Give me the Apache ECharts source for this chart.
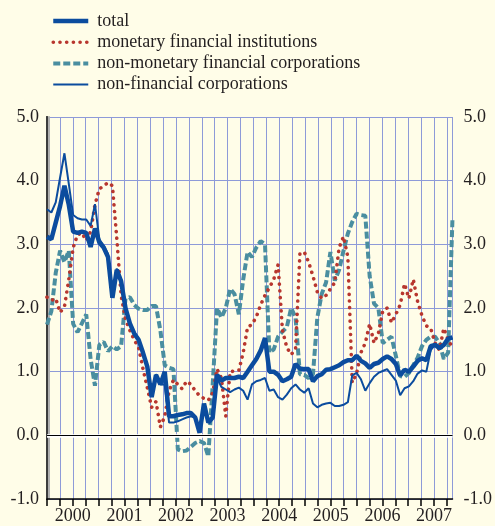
<!DOCTYPE html>
<html>
<head>
<meta charset="utf-8">
<script src="https://cdn.jsdelivr.net/npm/echarts@6/dist/echarts.min.js"></script>
<style>
  html, body { margin: 0; padding: 0; background: #fffde8; }
  #chart { width: 495px; height: 526px; }
</style>
</head>
<body>
<div id="chart"></div>
<script>
// monthly observations, Jan 2000 - Oct 2007
const firstYear = 2000
const seriesNames = [
  'total',
  'monetary financial institutions',
  'non-monetary financial corporations',
  'non-financial corporations'
]

const total = [
  3.12, 3.08, 3.34, 3.6, 3.92, 3.62, 3.2, 3.18, 3.2, 3.18,
  2.96, 3.25, 3.03, 2.95, 2.8, 2.16, 2.6, 2.42, 2.0, 1.76,
  1.6, 1.5, 1.3, 1.08, 0.6, 0.95, 0.8, 1.0, 0.3, 0.3,
  0.32, 0.33, 0.35, 0.35, 0.28, 0.04, 0.5, 0.2, 0.28, 0.95,
  0.86, 0.9, 0.9, 0.9, 0.92, 0.9, 1.0, 1.1, 1.2, 1.33,
  1.53, 1.0, 1.0, 0.95, 0.85, 0.88, 0.92, 1.12, 1.05, 1.04,
  1.04, 0.85, 0.93, 0.96, 1.03, 1.04, 1.07, 1.1, 1.15, 1.18,
  1.18, 1.25, 1.17, 1.13, 1.06, 1.12, 1.14, 1.2, 1.24, 1.2,
  1.12, 0.94, 1.03, 1.0, 1.08, 1.17, 1.21, 1.18, 1.4, 1.42,
  1.37, 1.42, 1.52, 1.54
]

const mfi = [
  2.17, 2.12, 2.15, 1.93, 2.02, 2.45, 2.95, 3.15, 3.18, 3.06,
  3.2, 3.62, 3.87, 3.92, 3.97, 3.92, 3.1, 2.2, 1.82, 1.65,
  1.5, 1.38, 1.05, 0.75, 0.44, 0.53, 0.13, 0.3, 0.7, 0.87,
  0.8, 0.73, 0.85, 0.8, 0.7, 0.62, 0.58, 0.55, 0.67, 1.04,
  0.9, 0.3, 1.0, 1.01, 1.02, 1.3, 1.7, 1.74, 1.86, 2.05,
  2.2, 2.32, 2.45, 2.68, 1.65, 1.38, 1.27, 1.35, 2.85, 2.88,
  2.72, 2.5, 2.25, 2.15, 2.2, 2.3, 2.4, 2.95, 3.12, 2.8,
  0.83, 0.97, 1.3, 1.45, 1.75, 1.45, 1.6, 1.95, 2.0, 1.77,
  1.9, 2.05, 2.38, 2.15, 2.45, 2.1, 1.88, 1.72, 1.68, 1.45,
  1.34, 1.68, 1.5, 1.38
]

const nonMfi = [
  1.74, 1.95, 2.55, 2.9, 2.72, 2.9, 1.75, 1.62, 1.76, 1.9,
  1.2, 0.78, 1.42, 1.47, 1.32, 1.4, 1.35, 1.4, 2.15, 2.17,
  2.05, 1.99, 1.97, 1.97, 2.03, 2.03, 1.65, 1.1, 1.06, 1.04,
  -0.22, -0.25, -0.24, -0.18, -0.12, -0.09, -0.12, -0.33, 0.8, 2.0,
  1.85, 2.0, 2.3, 2.22, 1.9, 2.45, 2.88, 2.8, 2.95, 3.05,
  3.0, 1.3, 1.35, 1.55, 1.63, 1.7, 2.0, 1.85, 0.96, 0.95,
  0.9, 0.96, 1.85, 2.22, 2.4, 2.88, 2.43, 2.6, 2.9, 3.17,
  3.35, 3.48, 3.46, 3.45, 2.5, 2.07, 2.0, 1.45, 1.5, 1.55,
  1.25, 0.93, 0.92, 0.98, 1.1, 1.22, 1.4, 1.5, 1.55, 1.55,
  1.45, 1.2, 1.3, 3.42
]

const nfc = [
  3.55, 3.5, 3.66, 4.05, 4.43, 3.95, 3.46, 3.41, 3.39, 3.39,
  3.29, 3.63, 3.08, 2.98, 2.85, 2.2, 2.62, 2.45, 2.02, 1.76,
  1.62, 1.52, 1.32, 1.1, 0.62, 0.96, 0.8, 0.8, 0.2, 0.2,
  0.22, 0.25, 0.28, 0.3, 0.28, 0.05, 0.45, 0.2, 0.3, 0.9,
  0.76, 0.72, 0.68, 0.72, 0.75, 0.7, 0.56, 0.8, 0.85, 0.87,
  0.9, 0.7, 0.72, 0.6, 0.56, 0.64, 0.74, 0.8, 0.72, 0.67,
  0.74, 0.5, 0.44, 0.48, 0.5, 0.51, 0.46, 0.46, 0.48, 0.52,
  0.94, 0.98, 0.88, 0.7, 0.82, 0.92, 0.98, 1.01, 1.04, 0.95,
  0.86, 0.63, 0.74, 0.77, 0.85, 0.97, 1.02, 1.0, 1.34, 1.42,
  1.36, 1.42, 1.5, 1.52
]

const yMin = -1
const yMax = 5
// calendar axis in months from Jan 2000 (quarter grid), data axis in observation index
const calendarMax = 94.3

const serif = 'Liberation Serif'
const gridBlue = '#8e9ad8'
const darkBlue = '#0b4c9e'
const teal = '#4a8ea0'
const red = '#b8362e'

const pairs = (values) => values.map((v, i) => [i, v])

const chart = echarts.init(document.getElementById('chart'))

const zeroLine = (color, width) => ({
  silent: true,
  symbol: 'none',
  label: { show: false },
  lineStyle: { color, width, type: 'solid' },
  data: [{ yAxis: 0 }]
})

const yAxisBase = {
  type: 'value',
  min: yMin,
  max: yMax,
  interval: 1,
  axisTick: { show: false },
  axisLabel: {
    color: '#231f20',
    fontFamily: serif,
    fontSize: 18,
    formatter: (v) => v.toFixed(1)
  }
}

chart.setOption({
  animation: false,
  backgroundColor: '#fffde8',
  grid: { left: 47, right: 39, top: 117, bottom: 27 },
  legend: {
    orient: 'vertical',
    left: 46,
    top: 7,
    itemWidth: 35,
    itemHeight: 14,
    itemGap: 3.2,
    data: seriesNames,
    itemStyle: { opacity: 0 },
    lineStyle: { width: 'inherit' },
    textStyle: {
      color: '#231f20',
      fontFamily: serif,
      fontSize: 18,
      lineHeight: 18,
      padding: [0, 0, 0, 4]
    }
  },
  xAxis: [
    {
      type: 'value',
      min: 0,
      max: calendarMax,
      interval: 3,
      axisLine: { show: true, onZero: false, lineStyle: { color: '#000', width: 1.5 } },
      axisTick: { show: true, length: 7, lineStyle: { color: '#000', width: 1.5 } },
      splitLine: { show: true, lineStyle: { color: gridBlue, width: 1 } },
      axisLabel: {
        color: '#231f20',
        fontFamily: serif,
        fontSize: 18,
        margin: 8,
        showMaxLabel: false,
        formatter: (v) => (v % 12 === 6 ? String(firstYear + (v - 6) / 12) : '')
      }
    },
    {
      type: 'value',
      min: 0,
      max: total.length - 1,
      show: false
    }
  ],
  yAxis: [
    Object.assign({}, yAxisBase, {
      position: 'left',
      axisLine: { show: true, lineStyle: { color: '#3c3c3c', width: 2 } },
      axisLabel: Object.assign({}, yAxisBase.axisLabel, { margin: 8 }),
      splitLine: { show: true, lineStyle: { color: gridBlue, width: 1 } }
    }),
    Object.assign({}, yAxisBase, {
      position: 'right',
      axisLine: {
        show: true,
        lineStyle: { color: '#3c3c3c', width: 2, shadowColor: '#b0b0b0', shadowOffsetX: 2 }
      },
      axisLabel: Object.assign({}, yAxisBase.axisLabel, { margin: 11 }),
      splitLine: { show: false }
    })
  ],
  series: [
    {
      name: seriesNames[2],
      type: 'line',
      xAxisIndex: 1,
      symbol: 'none',
      data: pairs(nonMfi),
      lineStyle: { color: teal, width: 4, type: [7, 3] },
      itemStyle: { color: teal },
      markLine: zeroLine('#ffffff', 3.5)
    },
    {
      name: seriesNames[1],
      type: 'line',
      xAxisIndex: 1,
      symbol: 'none',
      data: pairs(mfi),
      lineStyle: { color: red, width: 3.6, type: [0.1, 6.6], cap: 'round' },
      itemStyle: { color: red }
    },
    {
      name: seriesNames[3],
      type: 'line',
      xAxisIndex: 1,
      symbol: 'none',
      data: pairs(nfc),
      lineStyle: { color: darkBlue, width: 2 },
      itemStyle: { color: darkBlue },
      markLine: zeroLine('#000000', 1.2)
    },
    {
      name: seriesNames[0],
      type: 'line',
      xAxisIndex: 1,
      symbol: 'none',
      data: pairs(total),
      lineStyle: { color: darkBlue, width: 4.5 },
      itemStyle: { color: darkBlue }
    }
  ]
})
</script>
</body>
</html>
